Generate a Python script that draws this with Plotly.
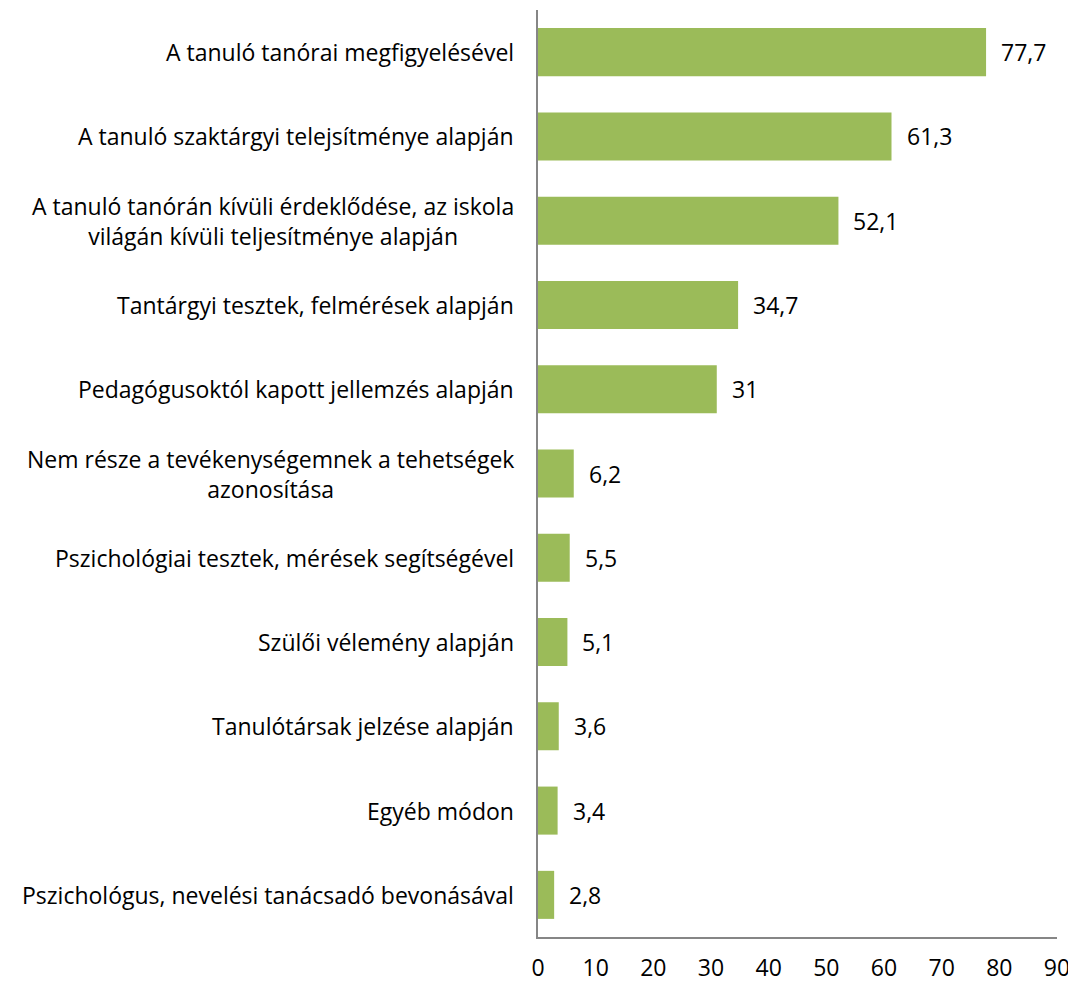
import plotly.graph_objects as go

categories = [
    "A tanuló tanórai megfigyelésével",
    "A tanuló szaktárgyi telejsítménye alapján",
    "A tanuló tanórán kívüli érdeklődése, az iskola<br>világán kívüli teljesítménye alapján",
    "Tantárgyi tesztek, felmérések alapján",
    "Pedagógusoktól kapott jellemzés alapján",
    "Nem része a tevékenységemnek a tehetségek<br>azonosítása",
    "Pszichológiai tesztek, mérések segítségével",
    "Szülői vélemény alapján",
    "Tanulótársak jelzése alapján",
    "Egyéb módon",
    "Pszichológus, nevelési tanácsadó bevonásával",
]
values = [77.7, 61.3, 52.1, 34.7, 31, 6.2, 5.5, 5.1, 3.6, 3.4, 2.8]
value_labels = ["77,7", "61,3", "52,1", "34,7", "31", "6,2", "5,5", "5,1", "3,6", "3,4", "2,8"]
x_ticks = [0, 10, 20, 30, 40, 50, 60, 70, 80, 90]

FONT = "'Open Sans', sans-serif"
FS = 23
ids = list(range(len(categories)))

fig = go.Figure()
fig.add_trace(go.Bar(
    x=values, y=ids, orientation="h",
    marker=dict(color="#9BBB59", line=dict(width=0)),
    hoverinfo="skip",
))

for i, (v, lab, cat) in enumerate(zip(values, value_labels, categories)):
    fig.add_annotation(x=v, y=i, xref="x", yref="y", text=lab, showarrow=False,
                       xanchor="left", xshift=13, font=dict(size=FS, color="#000", family=FONT))
    fig.add_annotation(x=0, y=i, xref="paper", yref="y", text=cat, showarrow=False,
                       xanchor="right", align="center", xshift=-22,
                       font=dict(size=FS, color="#000", family=FONT))

fig.update_layout(
    width=1068, height=977,
    margin=dict(l=530, r=19, t=2, b=45),
    plot_bgcolor="white", paper_bgcolor="white",
    bargap=0.43, showlegend=False,
    font=dict(family=FONT, size=FS, color="#000"),
)
fig.update_xaxes(range=[0, 90], tickvals=x_ticks, showgrid=False, zeroline=False,
                 showline=True, linecolor="#868686", linewidth=1.5, ticks="",
                 tickfont=dict(size=FS, color="#000"), ticklabelstandoff=10,
                 ticklabeloverflow="allow")
fig.update_yaxes(range=[len(categories) - 0.5, -0.5], showgrid=False, zeroline=False,
                 showline=True, linecolor="#868686", linewidth=1.5, ticks="",
                 showticklabels=False)

fig.write_html("out.html")
